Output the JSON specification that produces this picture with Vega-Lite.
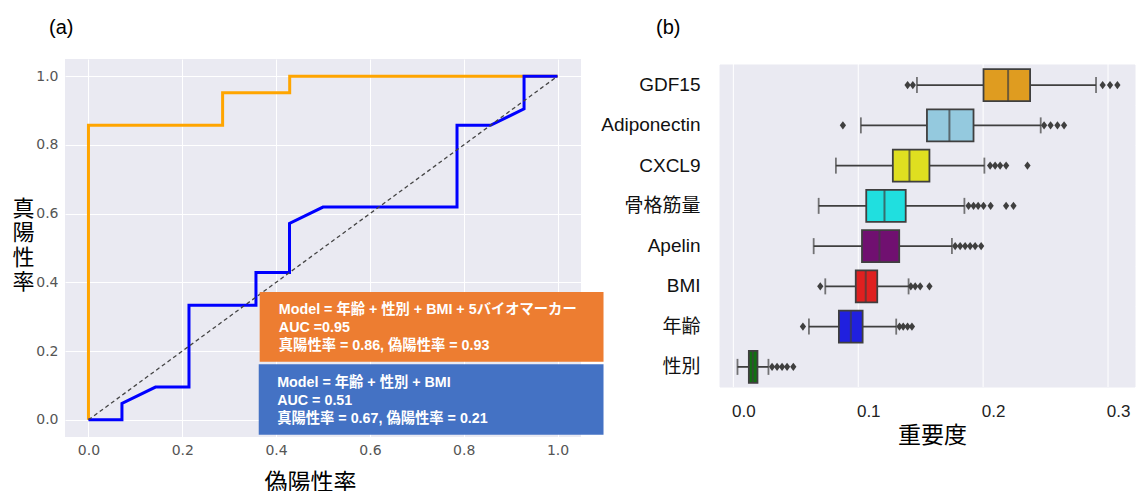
{
  "$schema": "https://vega.github.io/schema/vega-lite/v6.json",
  "padding": {"left": 11, "top": 17, "right": 0, "bottom": 0},
  "autosize": {"type": "pad"},
  "bounds": "flush",
  "spacing": 139,
  "config": {
    "view": {"stroke": null},
    "axis": {"domain": false, "ticks": false, "grid": false}
  },
  "datasets": {
    "roc": [
      {"model": "full", "step": 0, "fpr": 0, "tpr": 0},
      {"model": "full", "step": 1, "fpr": 0, "tpr": 0.857},
      {"model": "full", "step": 2, "fpr": 0.286, "tpr": 0.857},
      {"model": "full", "step": 3, "fpr": 0.286, "tpr": 0.952},
      {"model": "full", "step": 4, "fpr": 0.429, "tpr": 0.952},
      {"model": "full", "step": 5, "fpr": 0.429, "tpr": 1.0},
      {"model": "full", "step": 6, "fpr": 1.0, "tpr": 1.0},
      {"model": "base", "step": 0, "fpr": 0, "tpr": 0},
      {"model": "base", "step": 1, "fpr": 0.0714, "tpr": 0},
      {"model": "base", "step": 2, "fpr": 0.0714, "tpr": 0.0476},
      {"model": "base", "step": 3, "fpr": 0.1429, "tpr": 0.0952},
      {"model": "base", "step": 4, "fpr": 0.2143, "tpr": 0.0952},
      {"model": "base", "step": 5, "fpr": 0.2143, "tpr": 0.3333},
      {"model": "base", "step": 6, "fpr": 0.3571, "tpr": 0.3333},
      {"model": "base", "step": 7, "fpr": 0.3571, "tpr": 0.4286},
      {"model": "base", "step": 8, "fpr": 0.4286, "tpr": 0.4286},
      {"model": "base", "step": 9, "fpr": 0.4286, "tpr": 0.5714},
      {"model": "base", "step": 10, "fpr": 0.5, "tpr": 0.619},
      {"model": "base", "step": 11, "fpr": 0.7857, "tpr": 0.619},
      {"model": "base", "step": 12, "fpr": 0.7857, "tpr": 0.8571},
      {"model": "base", "step": 13, "fpr": 0.8571, "tpr": 0.8571},
      {"model": "base", "step": 14, "fpr": 0.9286, "tpr": 0.9048},
      {"model": "base", "step": 15, "fpr": 0.9286, "tpr": 1.0},
      {"model": "base", "step": 16, "fpr": 1.0, "tpr": 1.0}
    ],
    "boxes": [
      {"feature": "GDF15", "lower": 0.147, "q1": 0.2003, "median": 0.22, "q3": 0.2376, "upper": 0.2904},
      {"feature": "Adiponectin", "lower": 0.1021, "q1": 0.155, "median": 0.173, "q3": 0.1923, "upper": 0.2461},
      {"feature": "CXCL9", "lower": 0.0821, "q1": 0.1277, "median": 0.141, "q3": 0.157, "upper": 0.201},
      {"feature": "骨格筋量", "lower": 0.0683, "q1": 0.1064, "median": 0.121, "q3": 0.138, "upper": 0.185},
      {"feature": "Apelin", "lower": 0.0643, "q1": 0.103, "median": 0.117, "q3": 0.1328, "upper": 0.175},
      {"feature": "BMI", "lower": 0.0736, "q1": 0.098, "median": 0.106, "q3": 0.1152, "upper": 0.1403},
      {"feature": "年齢", "lower": 0.0605, "q1": 0.0845, "median": 0.0941, "q3": 0.1035, "upper": 0.1304},
      {"feature": "性別", "lower": 0.0033, "q1": 0.0124, "median": 0.0156, "q3": 0.0193, "upper": 0.0281}
    ],
    "outliers": [
      {"feature": "GDF15", "value": 0.1395}, {"feature": "GDF15", "value": 0.1437},
      {"feature": "GDF15", "value": 0.2957}, {"feature": "GDF15", "value": 0.3016}, {"feature": "GDF15", "value": 0.3075},
      {"feature": "Adiponectin", "value": 0.0877}, {"feature": "Adiponectin", "value": 0.2488},
      {"feature": "Adiponectin", "value": 0.254}, {"feature": "Adiponectin", "value": 0.2595}, {"feature": "Adiponectin", "value": 0.2648},
      {"feature": "CXCL9", "value": 0.2056}, {"feature": "CXCL9", "value": 0.2096}, {"feature": "CXCL9", "value": 0.2136},
      {"feature": "CXCL9", "value": 0.2184}, {"feature": "CXCL9", "value": 0.2355},
      {"feature": "骨格筋量", "value": 0.1883}, {"feature": "骨格筋量", "value": 0.1923}, {"feature": "骨格筋量", "value": 0.196},
      {"feature": "骨格筋量", "value": 0.2003}, {"feature": "骨格筋量", "value": 0.206}, {"feature": "骨格筋量", "value": 0.2184},
      {"feature": "骨格筋量", "value": 0.2243},
      {"feature": "Apelin", "value": 0.1776}, {"feature": "Apelin", "value": 0.1816}, {"feature": "Apelin", "value": 0.1856},
      {"feature": "Apelin", "value": 0.1896}, {"feature": "Apelin", "value": 0.1936}, {"feature": "Apelin", "value": 0.1984},
      {"feature": "BMI", "value": 0.0696}, {"feature": "BMI", "value": 0.1421}, {"feature": "BMI", "value": 0.1456},
      {"feature": "BMI", "value": 0.1496}, {"feature": "BMI", "value": 0.157},
      {"feature": "年齢", "value": 0.0557}, {"feature": "年齢", "value": 0.133}, {"feature": "年齢", "value": 0.136},
      {"feature": "年齢", "value": 0.1395}, {"feature": "年齢", "value": 0.143},
      {"feature": "性別", "value": 0.031}, {"feature": "性別", "value": 0.035}, {"feature": "性別", "value": 0.039},
      {"feature": "性別", "value": 0.043}, {"feature": "性別", "value": 0.048}
    ],
    "grid": [{"v": 0}, {"v": 0.1}, {"v": 0.2}, {"v": 0.3}]
  },
  "hconcat": [
    {
      "width": 516,
      "height": 378,
      "view": {"fill": "#EAEAF2", "stroke": null},
      "title": {"text": "(a)", "anchor": "start", "frame": "group", "dx": -16, "offset": 5, "baseline": "alphabetic", "fontSize": 20, "fontWeight": "normal", "font": "Liberation Sans", "color": "#000"},
      "layer": [
        {
          "data": {"name": "roc"},
          "transform": [{"filter": "datum.model == 'full'"}],
          "mark": {"type": "line", "color": "#FFA500", "strokeWidth": 3},
          "encoding": {
            "x": {"field": "fpr", "type": "quantitative", "title": "偽陽性率",
              "scale": {"domain": [-0.05, 1.05], "nice": false, "zero": false},
              "axis": {"values": [0, 0.2, 0.4, 0.6, 0.8, 1.0], "format": ".1f", "grid": true, "gridColor": "#FFFFFF", "gridWidth": 1,
                "labelFont": "DejaVu Sans", "labelFontSize": 14, "labelColor": "#555555", "labelPadding": 6,
                "titleFont": "Noto Sans CJK JP", "titleFontSize": 23, "titleFontWeight": "normal", "titleColor": "#000000", "titlePadding": 14, "titleX": 245}},
            "y": {"field": "tpr", "type": "quantitative", "title": ["真", "陽", "性", "率"],
              "scale": {"domain": [-0.05, 1.05], "nice": false, "zero": false},
              "axis": {"values": [0, 0.2, 0.4, 0.6, 0.8, 1.0], "format": ".1f", "grid": true, "gridColor": "#FFFFFF", "gridWidth": 1,
                "labelFont": "DejaVu Sans", "labelFontSize": 14, "labelColor": "#555555", "labelPadding": 7,
                "titleFont": "Noto Sans CJK JP", "titleFontSize": 22, "titleFontWeight": "normal", "titleColor": "#000000",
                "titleAngle": 0, "titleAlign": "center", "titleBaseline": "top", "titleLineHeight": 24.5, "titleX": -42, "titleY": 139}},
            "order": {"field": "step", "type": "quantitative"}
          }
        },
        {
          "data": {"name": "roc"},
          "transform": [{"filter": "datum.model == 'base'"}],
          "mark": {"type": "line", "color": "#0000FF", "strokeWidth": 3},
          "encoding": {
            "x": {"field": "fpr", "type": "quantitative", "title": "偽陽性率"},
            "y": {"field": "tpr", "type": "quantitative", "title": ["真", "陽", "性", "率"]},
            "order": {"field": "step", "type": "quantitative"}
          }
        },
        {
          "data": {"values": [{"fpr": 0, "tpr": 0}, {"fpr": 1, "tpr": 1}]},
          "mark": {"type": "line", "color": "#444444", "strokeWidth": 1.3, "strokeDash": [4, 3]},
          "encoding": {
            "x": {"field": "fpr", "type": "quantitative", "title": "偽陽性率"},
            "y": {"field": "tpr", "type": "quantitative", "title": ["真", "陽", "性", "率"]}
          }
        },
        {
          "data": {"values": [{"box": "full"}]},
          "mark": {"type": "rect", "color": "#ED7D31"},
          "encoding": {
            "x": {"datum": 0.365, "title": "偽陽性率"}, "x2": {"datum": 1.098},
            "y": {"datum": 0.372, "title": ["真", "陽", "性", "率"]}, "y2": {"datum": 0.169}
          }
        },
        {
          "data": {"values": [{"box": "base"}]},
          "mark": {"type": "rect", "color": "#4472C4"},
          "encoding": {
            "x": {"datum": 0.363, "title": "偽陽性率"}, "x2": {"datum": 1.098},
            "y": {"datum": 0.162, "title": ["真", "陽", "性", "率"]}, "y2": {"datum": -0.0436}
          }
        },
        {
          "data": {"values": [{"lines": ["Model = 年齢 + 性別 + BMI + 5バイオマーカー", "AUC =0.95", "真陽性率 = 0.86, 偽陽性率 = 0.93"]}]},
          "mark": {"type": "text", "align": "left", "baseline": "alphabetic", "lineHeight": 18, "fontSize": 14.3, "fontWeight": "bold", "color": "#FFFFFF", "font": "Liberation Sans, Noto Sans CJK JP"},
          "encoding": {
            "x": {"datum": 0.4058, "title": "偽陽性率"},
            "y": {"datum": 0.3073, "title": ["真", "陽", "性", "率"]},
            "text": {"field": "lines"}
          }
        },
        {
          "data": {"values": [{"lines": ["Model = 年齢 + 性別 + BMI", "AUC = 0.51", "真陽性率 = 0.67, 偽陽性率 = 0.21"]}]},
          "mark": {"type": "text", "align": "left", "baseline": "alphabetic", "lineHeight": 18, "fontSize": 14.3, "fontWeight": "bold", "color": "#FFFFFF", "font": "Liberation Sans, Noto Sans CJK JP"},
          "encoding": {
            "x": {"datum": 0.4023, "title": "偽陽性率"},
            "y": {"datum": 0.0968, "title": ["真", "陽", "性", "率"]},
            "text": {"field": "lines"}
          }
        }
      ]
    },
    {
      "width": 415,
      "height": 328,
      "view": {"stroke": null},
      "title": {"text": "(b)", "anchor": "start", "frame": "group", "dx": -64, "offset": 5, "baseline": "alphabetic", "fontSize": 20, "fontWeight": "normal", "font": "Liberation Sans", "color": "#000"},
      "layer": [
        {
          "data": {"name": "boxes"},
          "mark": {"type": "rect", "color": "#EAEAF2", "stroke": "#EAEAF2", "strokeWidth": 1},
          "encoding": {
            "y": {"field": "feature", "type": "nominal", "title": null,
              "scale": {"type": "band", "domain": ["GDF15", "Adiponectin", "CXCL9", "骨格筋量", "Apelin", "BMI", "年齢", "性別"], "paddingInner": 0, "paddingOuter": 0.0745, "align": 1},
              "axis": {"labelFont": "Liberation Sans, Noto Sans CJK JP", "labelFontSize": 19, "labelColor": "#111111", "labelPadding": 20}},
            "x": {"datum": -0.0107, "title": "重要度"},
            "x2": {"datum": 0.3216}
          }
        },
        {
          "data": {"name": "grid"},
          "mark": {"type": "rule", "color": "#FFFFFF", "strokeWidth": 1},
          "encoding": {
            "x": {"field": "v", "type": "quantitative", "title": "重要度",
              "scale": {"domain": [-0.0107, 0.3216], "nice": false, "zero": false},
              "axis": {"values": [0, 0.1, 0.2, 0.3], "format": ".1f", "labelFont": "Liberation Sans", "labelFontSize": 17, "labelColor": "#222222", "labelPadding": 16, "labelOffset": 10,
                "titleFont": "Noto Sans CJK JP", "titleFontSize": 23, "titleFontWeight": "normal", "titleColor": "#000000", "titlePadding": 5, "titleX": 212}}
          }
        },
        {
          "data": {"name": "boxes"},
          "mark": {"type": "rule", "color": "#3F3F3F", "strokeWidth": 1.8},
          "encoding": {
            "y": {"field": "feature", "type": "nominal", "title": null},
            "x": {"field": "lower", "type": "quantitative", "title": "重要度"},
            "x2": {"field": "upper"}
          }
        },
        {
          "data": {"name": "boxes"},
          "mark": {"type": "tick", "color": "#3F3F3F", "size": 16, "thickness": 1.8},
          "encoding": {
            "y": {"field": "feature", "type": "nominal", "title": null},
            "x": {"field": "lower", "type": "quantitative", "title": "重要度"}
          }
        },
        {
          "data": {"name": "boxes"},
          "mark": {"type": "tick", "color": "#3F3F3F", "size": 16, "thickness": 1.8},
          "encoding": {
            "y": {"field": "feature", "type": "nominal", "title": null},
            "x": {"field": "upper", "type": "quantitative", "title": "重要度"}
          }
        },
        {
          "data": {"name": "boxes"},
          "mark": {"type": "bar", "size": 32, "stroke": "#3F3F3F", "strokeWidth": 1.8, "opacity": 1},
          "encoding": {
            "y": {"field": "feature", "type": "nominal", "title": null},
            "x": {"field": "q1", "type": "quantitative", "title": "重要度"},
            "x2": {"field": "q3"},
            "color": {"field": "feature", "type": "nominal", "legend": null,
              "scale": {"domain": ["GDF15", "Adiponectin", "CXCL9", "骨格筋量", "Apelin", "BMI", "年齢", "性別"],
                "range": ["#DF9C20", "#94C9DE", "#DFDF20", "#20DFDF", "#701070", "#DF2020", "#2020DF", "#107010"]}}
          }
        },
        {
          "data": {"name": "boxes"},
          "mark": {"type": "tick", "color": "#3F3F3F", "size": 32, "thickness": 2},
          "encoding": {
            "y": {"field": "feature", "type": "nominal", "title": null},
            "x": {"field": "median", "type": "quantitative", "title": "重要度"}
          }
        },
        {
          "data": {"name": "outliers"},
          "mark": {"type": "point", "shape": "M0,-1L0.75,0L0,1L-0.75,0Z", "filled": true, "color": "#3F3F3F", "size": 70, "opacity": 1},
          "encoding": {
            "y": {"field": "feature", "type": "nominal", "title": null},
            "x": {"field": "value", "type": "quantitative", "title": "重要度"}
          }
        }
      ]
    }
  ]
}
